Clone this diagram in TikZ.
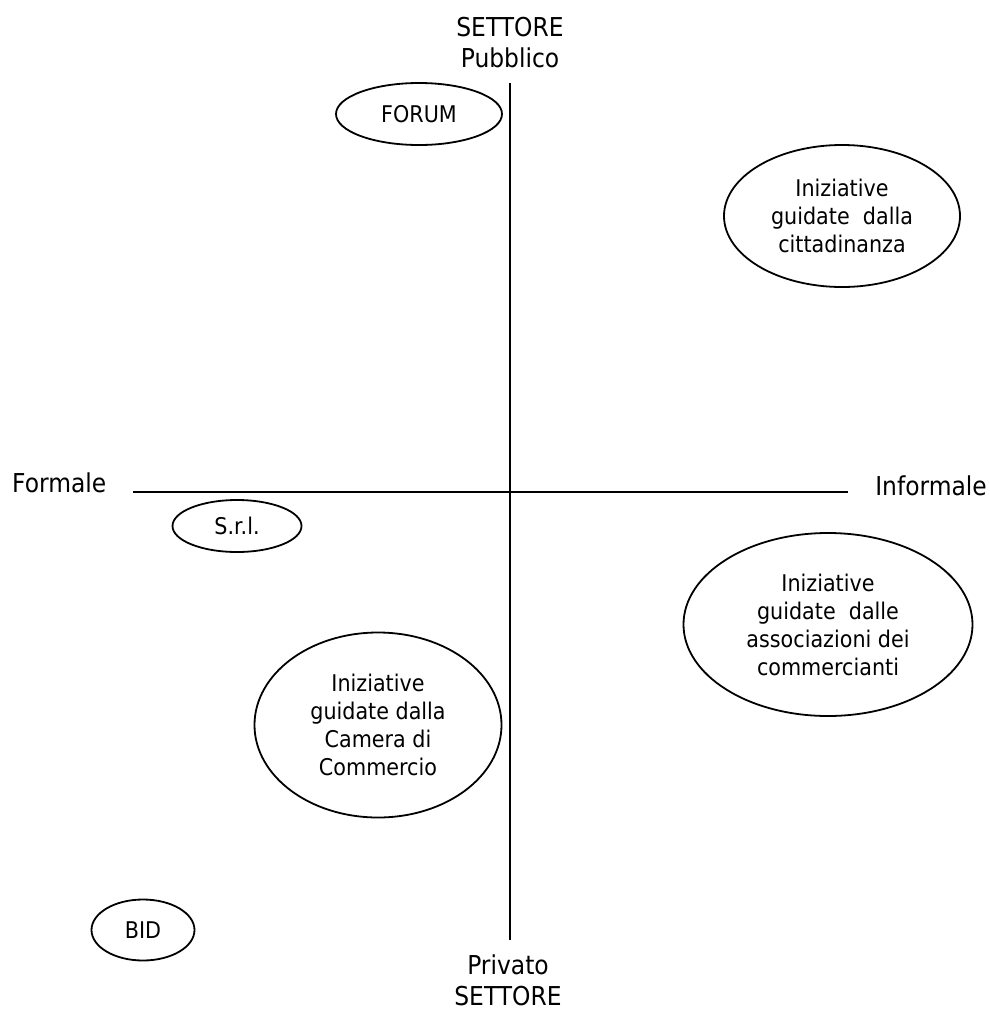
\documentclass[tikz,border=0pt]{standalone}
\usepackage{fontspec}
\setmainfont{DejaVu Sans}[FakeStretch=0.9]
\usetikzlibrary{shapes.geometric}
\begin{document}
\begin{tikzpicture}[x=1pt,y=-1pt,
  axis/.style={line width=2pt},
  axislabel/.style={inner sep=0pt,align=center,font=\fontsize{26}{30.5}\selectfont},
  bubble/.style={draw,ellipse,line width=1.8pt,inner sep=0pt,align=center,
                 font=\fontsize{23}{28}\selectfont},
]
\useasboundingbox (0,0) rectangle (990,1010);

% axes
\coordinate (top) at (510,83);
\coordinate (bottom) at (510,940);
\coordinate (left) at (133,492);
\coordinate (right) at (848,492);
\draw[axis] (top) -- (bottom);
\draw[axis] (left) -- (right);

% axis labels
\node[axislabel] (pub) at (510,42.5) {SETTORE\\Pubblico};
\node[axislabel] (priv) at (508,980.5) {Privato\\SETTORE};
\node[axislabel,anchor=base west] (formale) at (12,492) {Formale};
\node[axislabel,anchor=base east] (informale) at (987,495) {Informale};

% initiatives
\node[bubble,minimum width=166pt,minimum height=62pt] (forum) at (419,114) {FORUM};
\node[bubble,minimum width=236pt,minimum height=142pt] (citt) at (842,216)
  {Iniziative\\guidate\ \ dalla\\cittadinanza};
\node[bubble,minimum width=129pt,minimum height=52pt] (srl) at (237,526) {S.r.l.};
\node[bubble,minimum width=289pt,minimum height=183pt] (assoc) at (828,624.5)
  {Iniziative\\guidate\ \ dalle\\associazioni dei\\commercianti};
\node[bubble,minimum width=247pt,minimum height=185pt] (camera) at (378,725)
  {Iniziative\\guidate dalla\\Camera di\\Commercio};
\node[bubble,minimum width=103pt,minimum height=61pt] (bid) at (143,930) {BID};
\end{tikzpicture}
\end{document}
